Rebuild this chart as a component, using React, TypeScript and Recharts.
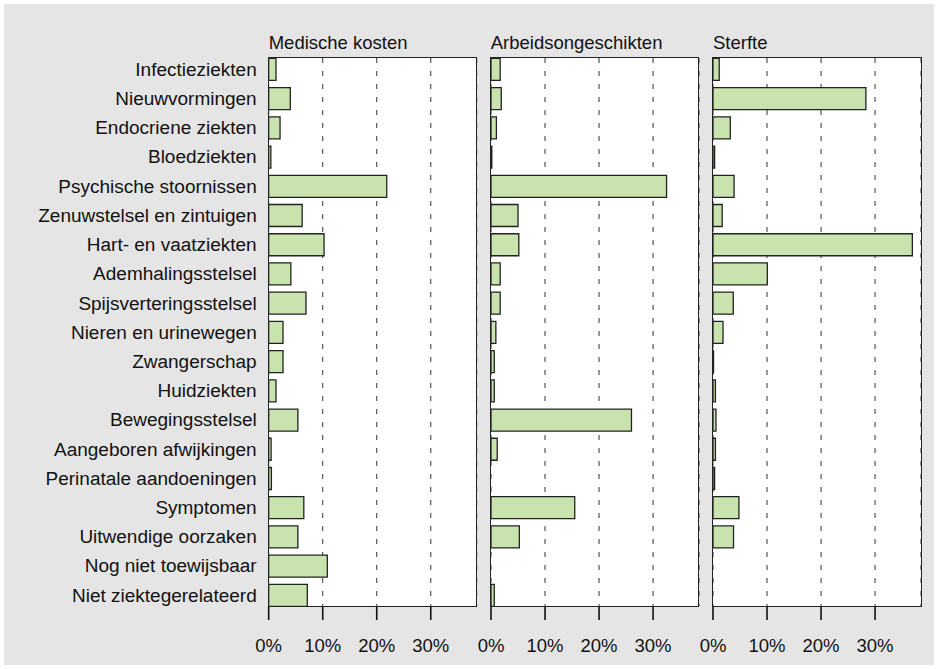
import { Bar, BarChart, CartesianGrid, XAxis, YAxis } from "recharts";

const categories = [
  "Infectieziekten",
  "Nieuwvormingen",
  "Endocriene ziekten",
  "Bloedziekten",
  "Psychische stoornissen",
  "Zenuwstelsel en zintuigen",
  "Hart- en vaatziekten",
  "Ademhalingsstelsel",
  "Spijsverteringsstelsel",
  "Nieren en urinewegen",
  "Zwangerschap",
  "Huidziekten",
  "Bewegingsstelsel",
  "Aangeboren afwijkingen",
  "Perinatale aandoeningen",
  "Symptomen",
  "Uitwendige oorzaken",
  "Nog niet toewijsbaar",
  "Niet ziektegerelateerd",
];

// percentages
const medischeKosten = [1.35, 4.0, 2.1, 0.4, 21.85, 6.2, 10.25, 4.1, 6.9, 2.65, 2.65, 1.35, 5.4, 0.45, 0.5, 6.5, 5.4, 10.85, 7.15];
const arbeidsongeschikten = [1.7, 1.9, 1.0, 0.15, 32.5, 5.0, 5.15, 1.7, 1.7, 0.9, 0.6, 0.6, 26.0, 1.15, 0, 15.5, 5.25, 0, 0.6];
const sterfte = [1.15, 28.3, 3.2, 0.3, 3.9, 1.7, 36.9, 10.05, 3.75, 1.85, 0.1, 0.45, 0.55, 0.45, 0.3, 4.8, 3.8, 0, 0];

const pctTicks = [0, 10, 20, 30];
const panelTitles = ["Medische kosten", "Arbeidsongeschikten", "Sterfte"];

const rows = categories.map((name, i) => ({
  name,
  medisch: medischeKosten[i],
  arbeid: arbeidsongeschikten[i],
  sterfte: sterfte[i],
}));

const FONT = "'Liberation Sans', Arial, Helvetica, sans-serif";
const X_MAX = 38.5;
const PLOT_W = 208;
const PLOT_TOP = 58;
const PLOT_BOTTOM = 606;
const H = 669;
const X_AXIS_H = 30;

function PctTick({ x, y, payload }: any) {
  return (
    <g>
      <line x1={x} x2={x} y1={y} y2={y + 14} stroke="#111" strokeWidth={1.6} />
      <text x={x} y={y + 33} dy="0.71em" textAnchor="middle" fill="#111" fontSize={18.5}>
        {`${payload.value}%`}
      </text>
    </g>
  );
}

function Panel({ dataKey, title, plotLeft, showLabels }: { dataKey: string; title: string; plotLeft: number; showLabels: boolean }) {
  const leftSpace = showLabels ? plotLeft : 18;
  const width = leftSpace + PLOT_W + 14;
  return (
    <>
      <div style={{ position: "absolute", left: plotLeft - leftSpace, top: 0, zIndex: 1 }}>
        <BarChart
          width={width}
          height={H}
          data={rows}
          layout="vertical"
          margin={{ top: PLOT_TOP, bottom: H - PLOT_BOTTOM - X_AXIS_H, left: showLabels ? 0 : leftSpace, right: 14 }}
          barSize={22}
        >
          <CartesianGrid horizontal={false} fill="#fff" stroke="#333" strokeDasharray="5 8" />
          <XAxis
            type="number"
            domain={[0, X_MAX]}
            ticks={pctTicks}
            height={X_AXIS_H}
            axisLine={false}
            tickLine={false}
            tickSize={0}
            tickMargin={0}
            tick={<PctTick />}
            allowDataOverflow
          />
          <YAxis
            type="category"
            dataKey="name"
            hide={!showLabels}
            width={showLabels ? plotLeft : 0}
            axisLine={false}
            tickLine={false}
            tickSize={0}
            tickMargin={12}
            interval={0}
            padding={{ top: -3.6, bottom: -3.6 }}
            tick={{ fill: "#111", fontSize: 19 }}
          />
          <Bar dataKey={dataKey} fill="#c8e3ad" stroke="#222" strokeWidth={1.3} isAnimationActive={false} />
        </BarChart>
      </div>
      <div
        style={{
          position: "absolute",
          left: plotLeft - 0.75,
          top: PLOT_TOP - 0.75,
          width: PLOT_W + 1.5,
          height: PLOT_BOTTOM - PLOT_TOP + 1.5,
          border: "1.5px solid #222",
          boxSizing: "border-box",
          pointerEvents: "none",
          zIndex: 2,
        }}
      />
      <div style={{ position: "absolute", left: plotLeft, top: 32, fontSize: 18.5, color: "#111", whiteSpace: "nowrap", zIndex: 2 }}>{title}</div>
    </>
  );
}

export default function App() {
  return (
    <div style={{ position: "absolute", left: 0, top: 0, width: 938, height: H, background: "#fff", fontFamily: FONT }}>
      <div style={{ position: "absolute", left: 4, top: 4, width: 930, height: 661, background: "#e5e5e5", zIndex: 0 }} />
      <Panel dataKey="medisch" title={panelTitles[0]} plotLeft={268.7} showLabels />
      <Panel dataKey="arbeid" title={panelTitles[1]} plotLeft={490.7} showLabels={false} />
      <Panel dataKey="sterfte" title={panelTitles[2]} plotLeft={713} showLabels={false} />
    </div>
  );
}
